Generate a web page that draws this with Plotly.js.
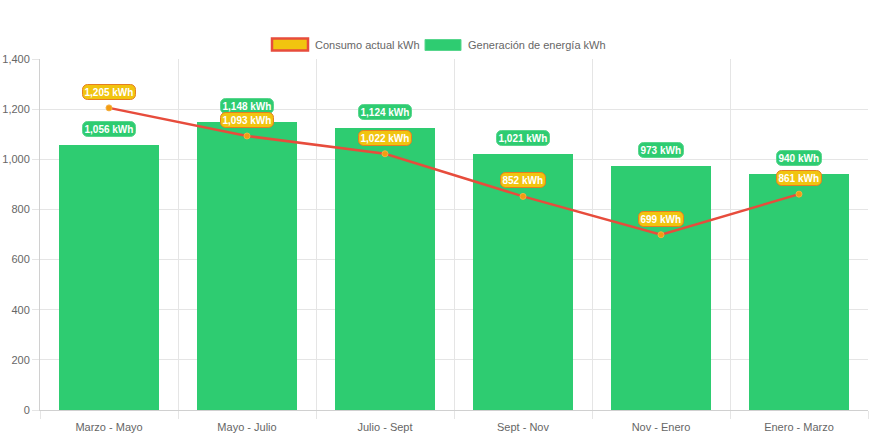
<!DOCTYPE html>
<html>
<head>
<meta charset="utf-8">
<script src="https://cdn.plot.ly/plotly-3.0.1.min.js"></script>
<style>html,body{margin:0;padding:0;background:#fff;}#chart{width:873px;height:436px;}</style>
</head>
<body>
<div id="chart"></div>
<script>
const categories = ["Marzo - Mayo", "Mayo - Julio", "Julio - Sept", "Sept - Nov", "Nov - Enero", "Enero - Marzo"];
const consumo = [1205, 1093, 1022, 852, 699, 861];
const generacion = [1056, 1148, 1124, 1021, 973, 940];
const yTicks = [0, 200, 400, 600, 800, 1000, 1200, 1400];
const seriesNames = ["Consumo actual kWh", "Generación de energía kWh"];

const W = 873, H = 436;
const M = {l: 40, r: 5, t: 59, b: 26};
const pw = W - M.l - M.r, ph = H - M.t - M.b;
const px = x => (x - M.l) / pw;
const py = y => (H - M.b - y) / ph;

const fmt = v => v.toLocaleString('en-US') + ' kWh';
const FONT = "Liberation Sans, Arial, sans-serif";

const traces = [
  {
    type: 'bar', x: categories, y: generacion, name: seriesNames[1],
    marker: {color: '#2ecc71'}, width: 0.72, showlegend: false, hoverinfo: 'skip'
  },
  {
    type: 'scatter', mode: 'lines+markers', x: categories, y: consumo, name: seriesNames[0],
    line: {color: '#e74c3c', width: 2.5},
    marker: {color: '#f39c12', size: 6, line: {color: '#f5b041', width: 1}},
    showlegend: false, hoverinfo: 'skip'
  }
];

const annotations = [];
categories.forEach((c, i) => {
  annotations.push({
    x: c, y: generacion[i], xref: 'x', yref: 'y', text: fmt(generacion[i]),
    showarrow: false, yshift: 16, yanchor: 'middle',
    font: {family: FONT, size: 10, color: '#ffffff', weight: 'bold'},
    bgcolor: '#2ecc71', bordercolor: '#58d68d', borderwidth: 1, borderpad: 1.5
  });
  annotations.push({
    x: c, y: consumo[i], xref: 'x', yref: 'y', text: fmt(consumo[i]),
    showarrow: false, yshift: 16, yanchor: 'middle',
    font: {family: FONT, size: 10, color: '#ffffff', weight: 'bold'},
    bgcolor: '#f1c40f', bordercolor: '#e67e22', borderwidth: 1, borderpad: 1.5
  });
});

// custom legend
annotations.push({
  x: px(313), y: py(44.5), xref: 'paper', yref: 'paper', text: seriesNames[0],
  xanchor: 'left', yanchor: 'middle', showarrow: false,
  font: {family: FONT, size: 11, color: '#666666'}
});
annotations.push({
  x: px(466), y: py(44.5), xref: 'paper', yref: 'paper', text: seriesNames[1],
  xanchor: 'left', yanchor: 'middle', showarrow: false,
  font: {family: FONT, size: 11, color: '#666666'}
});

const shapes = [
  {type: 'rect', xref: 'paper', yref: 'paper', x0: px(272), x1: px(308), y0: py(50.5), y1: py(38.5),
   fillcolor: '#f1c40f', line: {color: '#e74c3c', width: 2.5}},
  {type: 'rect', xref: 'paper', yref: 'paper', x0: px(425), x1: px(461), y0: py(50.5), y1: py(39.5),
   fillcolor: '#2ecc71', line: {color: '#58d68d', width: 1}}
];

const layout = {
  width: W, height: H,
  margin: M,
  paper_bgcolor: '#ffffff', plot_bgcolor: '#ffffff',
  font: {family: FONT, size: 11, color: '#666666'},
  showlegend: false,
  bargap: 0,
  xaxis: {
    type: 'category', tickson: 'boundaries', ticks: 'outside', ticklen: 8,
    tickcolor: '#e5e5e5', showgrid: true, gridcolor: '#e5e5e5', gridwidth: 1,
    showline: true, linecolor: '#d0d0d0', linewidth: 1, mirror: false,
    tickfont: {family: FONT, size: 11, color: '#666666'}, fixedrange: true,
    ticklabelstandoff: 7,
    range: [-0.5, categories.length - 0.5]
  },
  yaxis: {
    range: [0, 1400], tickvals: yTicks, ticktext: yTicks.map(v => v.toLocaleString('en-US')),
    ticks: 'outside', ticklen: 7, tickcolor: '#e5e5e5',
    showgrid: true, gridcolor: '#e5e5e5', gridwidth: 1, zeroline: false,
    showline: true, linecolor: '#d0d0d0', linewidth: 1,
    tickfont: {family: FONT, size: 11, color: '#666666'}, fixedrange: true
  },
  annotations: annotations,
  shapes: shapes
};

const gd = document.getElementById('chart');
function roundBoxes() {
  gd.querySelectorAll('.annotation rect.bg').forEach(r => {
    if (r.getAttribute('style') && r.getAttribute('style').indexOf('fill: rgb(255, 255, 255)') === -1) {
      r.setAttribute('rx', 5); r.setAttribute('ry', 5);
    }
  });
}
Plotly.newPlot(gd, traces, layout, {displayModeBar: false, staticPlot: true}).then(() => {
  roundBoxes();
  gd.on('plotly_afterplot', roundBoxes);
});
</script>
</body>
</html>
